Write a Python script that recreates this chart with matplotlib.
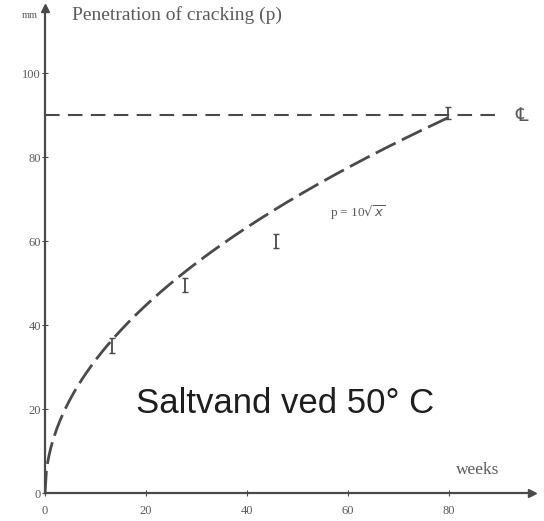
import numpy as np
import matplotlib
matplotlib.use("Agg")
import matplotlib.pyplot as plt

# measured points (weeks, penetration) with half error bar
weeks = [13.3, 27.7, 45.7, 79.8]
depth = [35.2, 49.5, 60.0, 90.5]
err = [1.8, 1.7, 1.6, 1.4]

coef = 10          # p = 10 * sqrt(x)
x_end = 81
limit = 90         # centre line level
xticks = [0, 20, 40, 60, 80]
yticks = [0, 20, 40, 60, 80, 100]

ink = '#4a4a4a'
txt = '#5a5a5a'

fig = plt.figure(figsize=(5.44, 5.21), dpi=100)
ax = fig.add_axes([45/544, 28/521, 487/544, 485/521])
ax.set_xlim(0, 96.5)
ax.set_ylim(0, 115.5)

for s in ['top', 'right']:
    ax.spines[s].set_visible(False)
for s in ['left', 'bottom']:
    ax.spines[s].set_color(ink)
    ax.spines[s].set_linewidth(1.6)

# arrow heads at axis ends
ax.plot(1, 0, '>', color=ink, ms=6, transform=ax.get_yaxis_transform(), clip_on=False)
ax.plot(0, 1, '^', color=ink, ms=6, transform=ax.get_xaxis_transform(), clip_on=False)

ax.set_xticks(xticks)
ax.set_yticks(yticks)
ax.tick_params(direction='inout', length=4, width=0.8, color=ink,
               labelsize=9, labelcolor=txt)
ax.tick_params(axis='x', pad=7)
ax.tick_params(axis='y', pad=1)
for lab in ax.get_xticklabels() + ax.get_yticklabels():
    lab.set_family('Liberation Serif')

# fitted curve
xs = np.linspace(0, x_end, 300)
ax.plot(xs, coef*np.sqrt(xs), color=ink, lw=2.0, dashes=(8, 2.5))

# centre line
ax.plot([0, 90.7], [limit, limit], color=ink, lw=1.5, dashes=(7, 4))

ax.errorbar(weeks, depth, yerr=err, fmt='none', ecolor=ink, elinewidth=1.3,
            capsize=2.5, capthick=1.0)

serif = ['Liberation Serif', 'DejaVu Serif', 'DejaVu Sans']
ax.text(5.3, 113.8, 'Penetration of cracking (p)', fontsize=14, color=txt,
        family=serif, va='center', ha='left')
ax.text(-1.5, 113.8, 'mm', fontsize=7.5, color=txt, family=serif,
        va='center', ha='right')
ax.text(56.5, 66.7, r'p = 10$\sqrt{x}$', fontsize=9.5, color=txt,
        family=serif, va='center', ha='left')
ax.text(85.8, 5.5, 'weeks', fontsize=12.5, color=txt, family=serif,
        va='center', ha='center')
ax.text(94.5, limit, '\u2104', fontsize=14, color=txt,
        family=['DejaVu Sans', 'DejaVu Serif'], va='center', ha='center')

ax.text(47.5, 21.4, 'Saltvand ved 50° C', fontsize=25, color='#1e1e1e',
        family='Liberation Sans', va='center', ha='center')

fig.savefig('out.png', dpi=100)
